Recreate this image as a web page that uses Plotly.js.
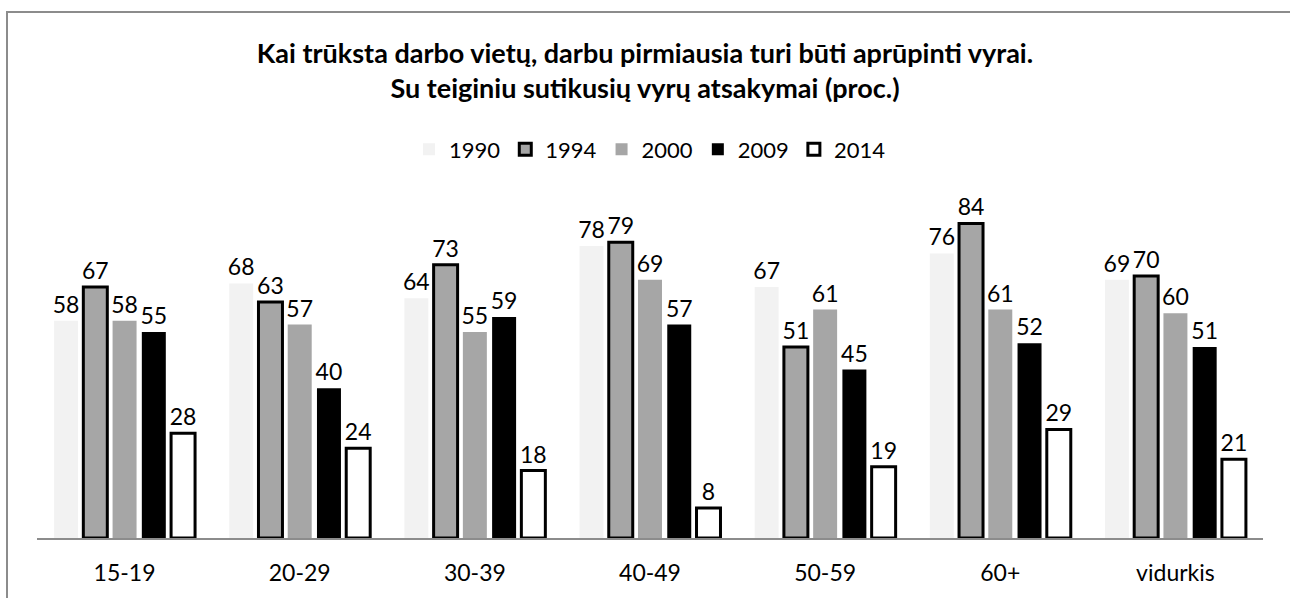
<!DOCTYPE html>
<html>
<head>
<meta charset="utf-8">
<script src="https://cdn.plot.ly/plotly-3.0.1.min.js"></script>
<style>
  html, body { margin: 0; padding: 0; background: #fff; overflow: hidden; }
  #wrap { position: relative; width: 1290px; height: 598px; }
  #chart { width: 1290px; height: 598px; }
  #frame { position: absolute; left: 6px; top: 11px; width: 2000px; height: 2000px;
           border: 2px solid #8c8c8c; pointer-events: none; box-sizing: border-box; }
</style>
</head>
<body>
<div id="wrap">
  <div id="chart"></div>
  <div id="frame"></div>
</div>
<script>
const categories = ["15-19", "20-29", "30-39", "40-49", "50-59", "60+", "vidurkis"];
const seriesNames = ["1990", "1994", "2000", "2009", "2014"];
const v1990 = [58, 68, 64, 78, 67, 76, 69];
const v1994 = [67, 63, 73, 79, 51, 84, 70];
const v2000 = [58, 57, 55, 69, 61, 61, 60];
const v2009 = [55, 40, 59, 57, 45, 52, 51];
const v2014 = [28, 24, 18, 8, 19, 29, 21];

const values = [v1990, v1994, v2000, v2009, v2014];
const fills = ["#f2f2f2", "#a6a6a6", "#a6a6a6", "#000000", "#ffffff"];
const lineW = [0, 3, 0, 0, 3];
const FONT = "Lato, 'Open Sans', sans-serif";

const traces = values.map((vals, i) => ({
  type: "bar",
  name: seriesNames[i],
  x: categories,
  y: vals,
  text: vals.map(String),
  textposition: "outside",
  constraintext: "none",
  cliponaxis: false,
  textfont: { family: FONT, size: 23, color: "#000" },
  marker: { color: fills[i], line: { color: "#000", width: lineW[i] } },
  hoverinfo: "skip"
}));

const layout = {
  width: 1290,
  height: 598,
  paper_bgcolor: "rgba(0,0,0,0)",
  plot_bgcolor: "rgba(0,0,0,0)",
  margin: { l: 37, r: 27, t: 201.4, b: 60, autoexpand: false },
  barmode: "group",
  bargap: 0.165,
  bargroupgap: 0.18,
  font: { family: FONT, size: 23, color: "#000" },
  title: {
    text: "Kai trūksta darbo vietų, darbu pirmiausia turi būti aprūpinti vyrai.<br>Su teiginiu sutikusių vyrų atsakymai (proc.)",
    font: { family: FONT, size: 27, weight: 700, color: "#000" },
    x: 0.5, xref: "container", xanchor: "center",
    y: 1 - 63 / 598, yref: "container", yanchor: "top"
  },
  showlegend: true,
  legend: {
    orientation: "h",
    x: 0.5, xanchor: "center",
    y: 1 + (201.4 - 150) / 336.6, yanchor: "middle",
    font: { family: FONT, size: 22, color: "#000" },
    traceorder: "normal"
  },
  xaxis: {
    type: "category",
    showline: true,
    linecolor: "#8c8c8c",
    linewidth: 2,
    ticks: "",
    showgrid: false,
    zeroline: false,
    tickfont: { family: FONT, size: 23, color: "#000" },
    ticklabelstandoff: 13
  },
  yaxis: {
    range: [0, 90],
    visible: false,
    showgrid: false,
    zeroline: false
  }
};

Plotly.newPlot("chart", traces, layout, { displayModeBar: false, staticPlot: true });
</script>
</body>
</html>
